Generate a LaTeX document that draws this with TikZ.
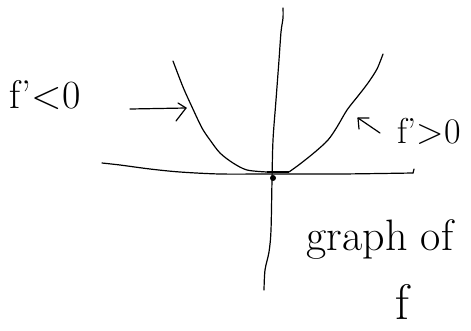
\documentclass[tikz,border=0pt]{standalone}
\begin{document}
\begin{tikzpicture}[x=1pt,y=-1pt,
  ink/.style={line width=1.2pt, line cap=round, line join=round},
  hand/.style={inner sep=0pt}]
\useasboundingbox (0,0) rectangle (471,330);
% vertical axis
\draw[ink] plot[smooth] coordinates {(283,8) (283,18) (281,32) (279,60) (276,100) (273,140) (272,180) (271,230) (269,252) (265,270) (264,290)};
% horizontal axis
\draw[ink] plot[smooth] coordinates {(102,163) (120,165) (150,169) (180,172) (220,174) (270,174) (340,174) (413,173)};
\draw[ink] (413,173) -- (414,169);
% parabola
\draw[ink] plot[smooth] coordinates {(173,61) (183,87) (192,107) (202,128) (210,140) (220,153) (233,163) (247,170) (267,172)};
\draw[line width=2pt] (267,172) -- (289,172);
\draw[ink] plot[smooth] coordinates {(289,172) (300,164) (315,152) (328,140) (337,127) (347,110) (358,96) (368,83) (377,69) (383,54)};
% origin dot
\node[circle, fill=black, inner sep=0pt, minimum size=6pt] (o) at (273,178) {};
% labels
\node[hand] (lneg) at (45,95) {\fontsize{40}{40}\selectfont f’<0};
\node[hand] (lpos) at (429,131) {\fontsize{36}{36}\selectfont f’>0};
\node[hand] (lgraph) at (380,240) {\fontsize{44}{44}\selectfont graph of};
\node[hand] (lf) at (402,302) {\fontsize{50}{50}\selectfont f};
% arrow 1
\coordinate (a1s) at (130,109);
\coordinate (a1e) at (186,108);
\coordinate (a1u) at (178,103);
\coordinate (a1d) at (176,121);
\draw[ink] (a1s) -- (a1e);
\draw[ink] (a1u) -- (a1e) -- (a1d);
% arrow 2
\coordinate (a2s) at (380,133);
\coordinate (a2e) at (358,118);
\coordinate (a2u) at (369,118);
\coordinate (a2d) at (359,129);
\draw[ink] (a2s) -- (a2e);
\draw[ink] (a2u) -- (a2e) -- (a2d);
\end{tikzpicture}
\end{document}
